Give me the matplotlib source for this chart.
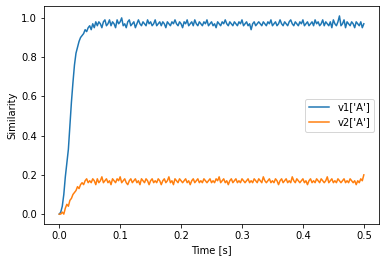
import numpy as np
import matplotlib.pyplot as plt

# similarity values, sampled every 2.5 ms from 0 to 0.5 s
v1 = [0.00, 0.01, 0.04, 0.10, 0.19, 0.26, 0.33, 0.45, 0.57, 0.67,
      0.76, 0.82, 0.85, 0.88, 0.90, 0.91, 0.92, 0.94, 0.93, 0.95,
      0.96, 0.94, 0.97, 0.95, 0.98,
      0.96, 0.98, 0.97, 0.95, 0.98, 0.99, 0.96, 0.97, 0.99, 0.96,
      0.98, 0.97, 0.95, 0.99, 0.97, 0.98, 1.00, 0.96, 0.97, 0.95,
      0.98, 0.99, 0.96, 0.97, 0.98, 0.95, 0.97, 0.99, 0.97, 0.96,
      0.98, 0.97, 0.96, 0.99, 0.97, 0.98, 0.96, 0.97, 0.99, 0.96,
      0.97, 0.98, 0.96, 0.98, 0.97, 0.95, 0.98, 0.97, 0.96, 0.98,
      0.97, 0.99, 0.97, 0.96, 0.98, 0.97, 0.95, 0.98, 0.97, 0.99,
      0.96, 0.97, 0.98, 0.96, 0.99, 0.97, 0.96, 0.98, 0.97, 0.96,
      0.98, 0.97, 0.99, 0.96, 0.97, 0.98, 0.96, 0.97, 0.95, 0.98,
      0.97, 0.96, 0.98, 0.97, 0.99, 0.97, 0.96, 0.98, 0.97, 0.96,
      0.98, 0.97, 0.96, 0.98, 0.97, 0.99, 0.96, 0.97, 0.98, 0.96,
      0.97, 0.94, 0.97, 0.98, 0.96, 0.97, 0.98, 0.97, 0.96, 0.98,
      0.97, 0.96, 0.98, 0.97, 0.99, 0.96, 0.97, 0.98, 0.96, 0.97,
      0.99, 0.97, 0.96, 0.98, 0.97, 0.96, 0.98, 0.99, 0.97, 0.96,
      0.98, 0.97, 0.96, 0.98, 0.97, 0.99, 0.96, 0.97, 0.98, 0.96,
      0.97, 0.98, 0.96, 0.99, 0.97, 0.98, 0.96, 0.97, 0.99, 0.96,
      0.98, 0.97, 0.96, 0.98, 0.95, 0.99, 0.97, 0.96, 0.98, 1.01,
      0.96, 0.97, 0.99, 0.95, 0.98, 0.97, 0.96, 0.98, 0.97, 0.95,
      0.98, 0.97, 0.96, 0.98, 0.95, 0.97]

v2 = [0.00, 0.00, 0.01, 0.00, 0.03, 0.05, 0.04, 0.07, 0.08, 0.10,
      0.11, 0.12, 0.14, 0.13, 0.15, 0.16, 0.15, 0.17, 0.18, 0.16,
      0.17,
      0.16, 0.18, 0.17, 0.15, 0.18, 0.16, 0.17, 0.19, 0.16, 0.17,
      0.18, 0.16, 0.17, 0.15, 0.18, 0.17, 0.16, 0.18, 0.17, 0.19,
      0.16, 0.17, 0.18, 0.16, 0.15, 0.17, 0.18, 0.16, 0.17, 0.18,
      0.16, 0.17, 0.15, 0.18, 0.17, 0.16, 0.18, 0.17, 0.15, 0.17,
      0.18, 0.16, 0.17, 0.16, 0.18, 0.17, 0.15, 0.17, 0.18, 0.16,
      0.17, 0.19, 0.16, 0.17, 0.15, 0.18, 0.17, 0.16, 0.18, 0.17,
      0.16, 0.17, 0.18, 0.16, 0.17, 0.15, 0.17, 0.18, 0.16, 0.17,
      0.18, 0.16, 0.17, 0.16, 0.18, 0.17, 0.16, 0.17, 0.18, 0.16,
      0.17, 0.16, 0.18, 0.17, 0.19, 0.16, 0.17, 0.18, 0.16, 0.17,
      0.15, 0.17, 0.18, 0.16, 0.17, 0.18, 0.16, 0.17, 0.16, 0.18,
      0.17, 0.16, 0.17, 0.18, 0.16, 0.17, 0.16, 0.18, 0.17, 0.16,
      0.18, 0.17, 0.16, 0.19, 0.17, 0.16, 0.17, 0.18, 0.16, 0.17,
      0.16, 0.18, 0.17, 0.15, 0.17, 0.18, 0.16, 0.17, 0.18, 0.16,
      0.17, 0.16, 0.19, 0.17, 0.16, 0.18, 0.17, 0.16, 0.17, 0.18,
      0.16, 0.17, 0.15, 0.17, 0.18, 0.16, 0.17, 0.16, 0.18, 0.17,
      0.16, 0.18, 0.17, 0.16, 0.17, 0.19, 0.16, 0.17, 0.18, 0.16,
      0.17, 0.16, 0.18, 0.17, 0.16, 0.17, 0.18, 0.16, 0.17, 0.16,
      0.18, 0.17, 0.16, 0.17, 0.15, 0.17, 0.16, 0.18, 0.17, 0.20]

labels = ["v1['A']", "v2['A']"]

t1 = np.linspace(0, 0.5, len(v1))
t2 = np.linspace(0, 0.5, len(v2))

fig = plt.figure(figsize=(386 / 72, 262 / 72), dpi=72)
ax = fig.add_subplot(111)
fig.subplots_adjust(left=0.114, right=0.982, bottom=0.145, top=0.977)

ax.plot(t1, v1, label=labels[0])
ax.plot(t2, v2, label=labels[1])

ax.set_xlabel('Time [s]')
ax.set_ylabel('Similarity')
ax.legend(loc='center right')

fig.savefig('out.png', dpi=72)
